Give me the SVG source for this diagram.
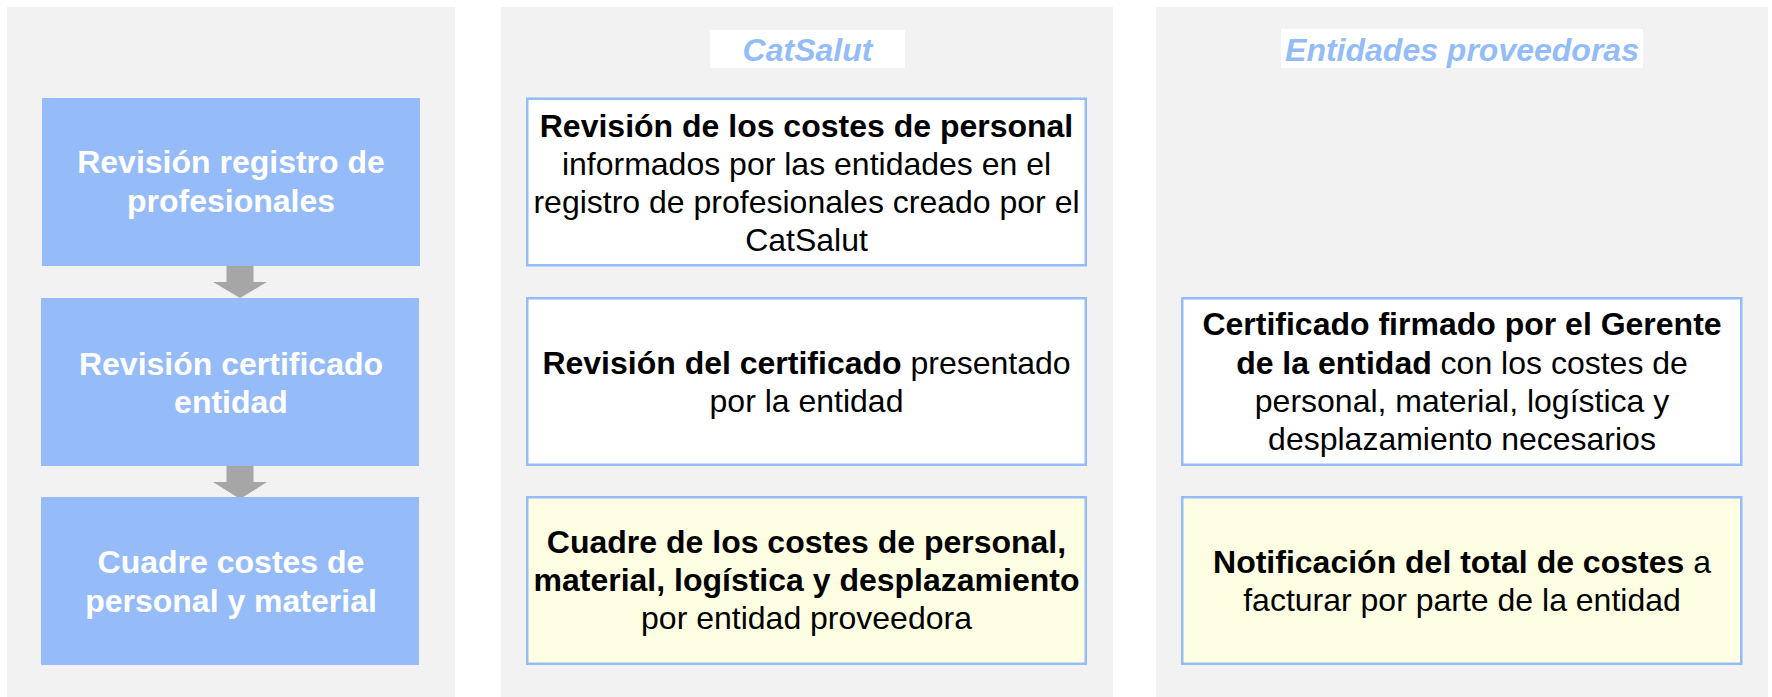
<svg xmlns="http://www.w3.org/2000/svg" width="1772" height="697" viewBox="0 0 1772 697">
<style>
.panel{fill:#f2f2f2}
.step{fill:#95bcf8}
.card{fill:#ffffff;stroke:#94bcf8;stroke-width:2.5}
.card.hl{fill:#fefee2}
.lbl{fill:#ffffff}
text{font-family:"Liberation Sans",Arial,sans-serif;font-size:32px;text-anchor:middle}
.w{fill:#ffffff;font-weight:bold}
.k{fill:#000000}
.b{font-weight:bold}
.h{fill:#94bcf8;font-weight:bold;font-style:italic}
.arr{fill:#a6a6a6}
</style>
<rect class="panel" x="7" y="7" width="448" height="690"/>
<rect class="panel" x="501" y="7" width="612" height="690"/>
<rect class="panel" x="1156" y="7" width="612" height="690"/>

<g id="connectors">
<path class="arr" d="M226.5,262 H253.5 V282 H267 L240,298 L213,282 H226.5 Z"/>
<path class="arr" d="M226.5,463 H253.5 V482 H267 L240,499 L213,482 H226.5 Z"/>
</g>

<g id="step1">
<rect class="step" x="42" y="98" width="378" height="168"/>
<text class="w" x="231" y="173">Revisión registro de</text>
<text class="w" x="231" y="212">profesionales</text>
</g>
<g id="step2">
<rect class="step" x="41" y="298" width="378" height="168"/>
<text class="w" x="231" y="375">Revisión certificado</text>
<text class="w" x="231" y="413">entidad</text>
</g>
<g id="step3">
<rect class="step" x="41" y="497" width="378" height="168"/>
<text class="w" x="231" y="573">Cuadre costes de</text>
<text class="w" x="231" y="612">personal y material</text>
</g>

<g id="label-catsalut">
<rect class="lbl" x="710" y="30" width="195" height="38"/>
<text class="h" x="807.5" y="61">CatSalut</text>
</g>
<g id="label-entidades">
<rect class="lbl" x="1281" y="29" width="362" height="39"/>
<text class="h" x="1462" y="61">Entidades proveedoras</text>
</g>

<g id="cat1">
<rect class="card" x="527.25" y="98.75" width="558.5" height="166.5"/>
<text class="k b" x="806.5" y="137">Revisión de los costes de personal</text>
<text class="k" x="806.5" y="175">informados por las entidades en el</text>
<text class="k" x="806.5" y="213">registro de profesionales creado por el</text>
<text class="k" x="806.5" y="251">CatSalut</text>
</g>
<g id="cat2">
<rect class="card" x="527.25" y="298.25" width="558.5" height="166.5"/>
<text class="k" x="806.5" y="373.5"><tspan class="b">Revisión del certificado</tspan> presentado</text>
<text class="k" x="806.5" y="412">por la entidad</text>
</g>
<g id="cat3">
<rect class="card hl" x="527.25" y="497.25" width="558.5" height="166.5"/>
<text class="k b" x="806.5" y="553">Cuadre de los costes de personal,</text>
<text class="k b" x="806.5" y="591">material, logística y desplazamiento</text>
<text class="k" x="806.5" y="629">por entidad proveedora</text>
</g>

<g id="ent1">
<rect class="card" x="1182.25" y="298.25" width="559" height="166.5"/>
<text class="k b" x="1462" y="335">Certificado firmado por el Gerente</text>
<text class="k" x="1462" y="373.5"><tspan class="b">de la entidad</tspan> con los costes de</text>
<text class="k" x="1462" y="412">personal, material, logística y</text>
<text class="k" x="1462" y="450">desplazamiento necesarios</text>
</g>
<g id="ent2">
<rect class="card hl" x="1182.25" y="497.25" width="559" height="166.5"/>
<text class="k" x="1462" y="573"><tspan class="b">Notificación del total de costes</tspan> a</text>
<text class="k" x="1462" y="611">facturar por parte de la entidad</text>
</g>
</svg>
